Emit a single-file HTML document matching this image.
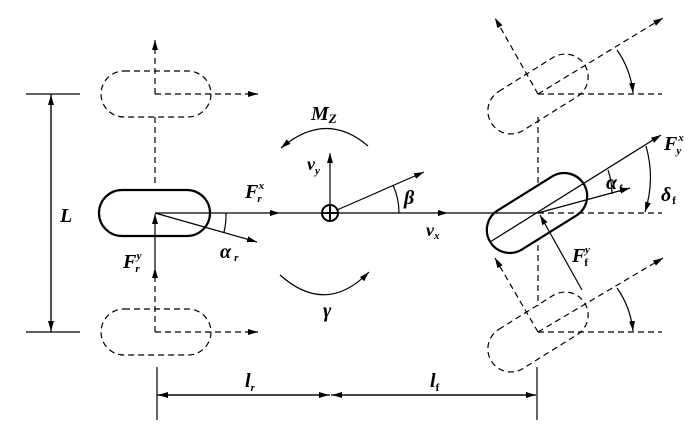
<!DOCTYPE html>
<html><head><style>
html,body{margin:0;padding:0;background:#fff;}
svg text{font-family:"Liberation Serif",serif;font-style:italic;font-weight:bold;fill:#000;}
</style></head><body>
<svg width="700" height="430" viewBox="0 0 700 430" xmlns="http://www.w3.org/2000/svg">
<defs>
<marker id="a" viewBox="0 0 10 6" refX="10" refY="3" markerWidth="10" markerHeight="6" orient="auto" markerUnits="userSpaceOnUse"><path d="M0,0 L10,3 L0,6 Z" fill="#000"/></marker>
</defs>
<g stroke="#000" fill="none" stroke-width="1.2">
<line x1="26" y1="94" x2="80" y2="94"/><line x1="26" y1="332" x2="80" y2="332"/>
<line x1="51" y1="332" x2="51" y2="95" marker-end="url(#a)"/>
<line x1="51" y1="94" x2="51" y2="331" marker-end="url(#a)"/>
<rect x="99" y="190" width="111" height="46" rx="23" stroke-width="2.2"/>
<g stroke-dasharray="6,4">
<rect x="101" y="71" width="110" height="46" rx="23"/>
<rect x="101" y="309" width="110" height="46" rx="23"/>
<line x1="155" y1="94" x2="155" y2="40" marker-end="url(#a)"/>
<line x1="155" y1="94" x2="258" y2="94" marker-end="url(#a)"/>
<line x1="155" y1="117" x2="155" y2="186"/>
<line x1="155" y1="332" x2="155" y2="268" marker-end="url(#a)"/>
<line x1="155" y1="332" x2="258" y2="332" marker-end="url(#a)"/>
</g>
<line x1="155" y1="268" x2="155" y2="214" marker-end="url(#a)"/>
<line x1="155" y1="213" x2="280" y2="213" marker-end="url(#a)"/>
<line x1="280" y1="213" x2="448" y2="213" marker-end="url(#a)"/>
<line x1="448" y1="213" x2="538" y2="213"/>
<line x1="155" y1="213" x2="257" y2="242" marker-end="url(#a)"/>
<path d="M226,213 A71,71 0 0 1 224,232"/>
<circle cx="330" cy="213" r="8" stroke-width="2"/>
<line x1="322" y1="213" x2="338" y2="213" stroke-width="2"/>
<line x1="330" y1="205" x2="330" y2="221" stroke-width="2"/>
<line x1="330" y1="205" x2="330" y2="153" marker-end="url(#a)"/>
<line x1="337" y1="210" x2="424" y2="172" marker-end="url(#a)"/>
<path d="M399,213 A69,69 0 0 0 393,185"/>
<path d="M368,146 Q326,110 281,148" marker-end="url(#a)"/>
<path d="M280,275 Q326,316 369,272" marker-end="url(#a)"/>
<g transform="rotate(-32 537 213)"><rect x="482" y="190" width="110" height="46" rx="23" stroke-width="2.2"/></g>
<line x1="490" y1="242" x2="661" y2="135" marker-end="url(#a)"/>
<line x1="538" y1="213" x2="630" y2="188" marker-end="url(#a)"/>
<path d="M608,170 A75,75 0 0 1 612,194"/>
<path d="M646,146 A115,115 0 0 1 645,212" marker-end="url(#a)"/>
<line x1="582" y1="290" x2="540" y2="215" marker-end="url(#a)"/>
<g stroke-dasharray="6,4">
<line x1="538" y1="213" x2="662" y2="213"/>
<line x1="538" y1="117" x2="538" y2="186"/>
<line x1="538" y1="245" x2="538" y2="306"/>
<g transform="rotate(-32 538 94)"><rect x="483" y="71" width="110" height="46" rx="23"/></g>
<g transform="rotate(-32 538 332)"><rect x="483" y="309" width="110" height="46" rx="23"/></g>
<line x1="538" y1="94" x2="662" y2="94"/>
<line x1="538" y1="94" x2="663" y2="18" marker-end="url(#a)"/>
<line x1="538" y1="94" x2="495" y2="18" marker-end="url(#a)"/>
<line x1="538" y1="332" x2="662" y2="332"/>
<line x1="538" y1="332" x2="663" y2="258" marker-end="url(#a)"/>
<line x1="538" y1="332" x2="495" y2="258" marker-end="url(#a)"/>
</g>
<path d="M617,50 A90,90 0 0 1 633,93" marker-end="url(#a)"/>
<path d="M617,288 A90,90 0 0 1 633,331" marker-end="url(#a)"/>
<line x1="157" y1="367" x2="157" y2="420"/>
<line x1="537" y1="367" x2="537" y2="420"/>
<line x1="330" y1="395" x2="158" y2="395" marker-end="url(#a)"/>
<line x1="157" y1="395" x2="329" y2="395" marker-end="url(#a)"/>
<line x1="331" y1="395" x2="536" y2="395" marker-end="url(#a)"/>
<line x1="536" y1="395" x2="332" y2="395" marker-end="url(#a)"/>
</g>
<g font-size="20">
<text x="60" y="222">L</text>
<text x="311" y="120">M<tspan font-size="13" dy="3">Z</tspan></text>
<text x="307" y="170" font-size="18">v<tspan font-size="11" dy="4">y</tspan></text>
<text x="245" y="198">F<tspan font-size="11" dx="-1" dy="4">r</tspan><tspan font-size="11" dx="-3" dy="-13">x</tspan></text>
<text x="123" y="268">F<tspan font-size="11" dx="-1" dy="4">r</tspan><tspan font-size="11" dx="-3" dy="-13">y</tspan></text>
<text x="220" y="258">α<tspan font-size="11" dx="3" dy="3">r</tspan></text>
<text x="404" y="204">β</text>
<text x="323" y="317">γ</text>
<text x="426" y="236" font-size="18">v<tspan font-size="11" dy="3">x</tspan></text>
<text x="664" y="150">F<tspan font-size="11" dx="-1" dy="4">y</tspan><tspan font-size="11" dx="-3" dy="-13">x</tspan></text>
<text x="606" y="189">α<tspan font-size="11" dx="2" dy="3" font-style="normal">f</tspan></text>
<text x="661" y="201">δ<tspan font-size="11" dx="1" dy="3" font-style="normal">f</tspan></text>
<text x="572" y="262">F<tspan font-size="11" dx="-1" dy="4" font-style="normal">f</tspan><tspan font-size="11" dx="-3" dy="-13">y</tspan></text>
<text x="245" y="387">l<tspan font-size="11" dy="4">r</tspan></text>
<text x="430" y="387">l<tspan font-size="11" dy="4" font-style="normal">f</tspan></text>
</g>
</svg>
</body></html>
